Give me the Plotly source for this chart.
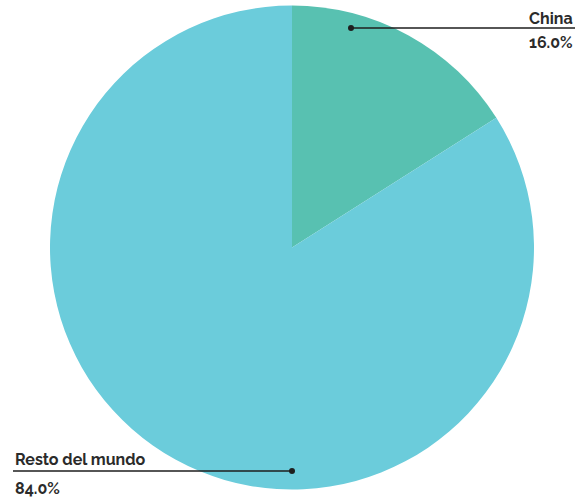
import plotly.graph_objects as go

W, H = 582, 499
categories = ["China", "Resto del mundo"]
values = [16.0, 84.0]
colors = ["#58C1B1", "#6BCCDB"]

def px(x):
    return x / W

def py(y):
    return 1 - y / H

fig = go.Figure(go.Pie(
    labels=categories,
    values=values,
    sort=False,
    direction="clockwise",
    rotation=0,
    marker=dict(colors=colors, line=dict(width=0)),
    textinfo="none",
    hoverinfo="label+percent",
    showlegend=False,
    domain=dict(x=[px(50), px(534)], y=[py(490), py(5)]),
))

font_main = dict(family="Raleway, Lato, 'Open Sans', sans-serif", size=16, color="#2b2b2b")
line_color = "#1e1e1e"

# (label index, dot x, dot y, line end x, text x, xanchor, name offset, pct offset)
label_specs = [
    (0, 351, 28, 575, 575, "right", -10, 15),
    (1, 292, 471, 13, 13, "left", -12, 17),
]
shapes = []
annotations = []
total = sum(values)
for idx, dx, dy, ex, tx, xa, no, po in label_specs:
    shapes.append(dict(type="line", xref="paper", yref="paper",
                       x0=px(dx), y0=py(dy), x1=px(ex), y1=py(dy),
                       line=dict(color=line_color, width=1.5)))
    shapes.append(dict(type="circle", xref="paper", yref="paper",
                       x0=px(dx - 3), y0=py(dy + 3), x1=px(dx + 3), y1=py(dy - 3),
                       fillcolor=line_color, line=dict(width=0)))
    annotations.append(dict(x=px(tx), y=py(dy + no), xref="paper", yref="paper",
                            text="<b>%s</b>" % categories[idx], showarrow=False,
                            xanchor=xa, yanchor="middle", font=font_main))
    annotations.append(dict(x=px(tx), y=py(dy + po), xref="paper", yref="paper",
                            text="<b>%.1f%%</b>" % (values[idx] / total * 100), showarrow=False,
                            xanchor=xa, yanchor="middle", font=font_main))

fig.update_layout(
    width=W, height=H,
    margin=dict(l=0, r=0, t=0, b=0),
    paper_bgcolor="white",
    plot_bgcolor="white",
    shapes=shapes,
    annotations=annotations,
)

fig.write_html("out.html")
